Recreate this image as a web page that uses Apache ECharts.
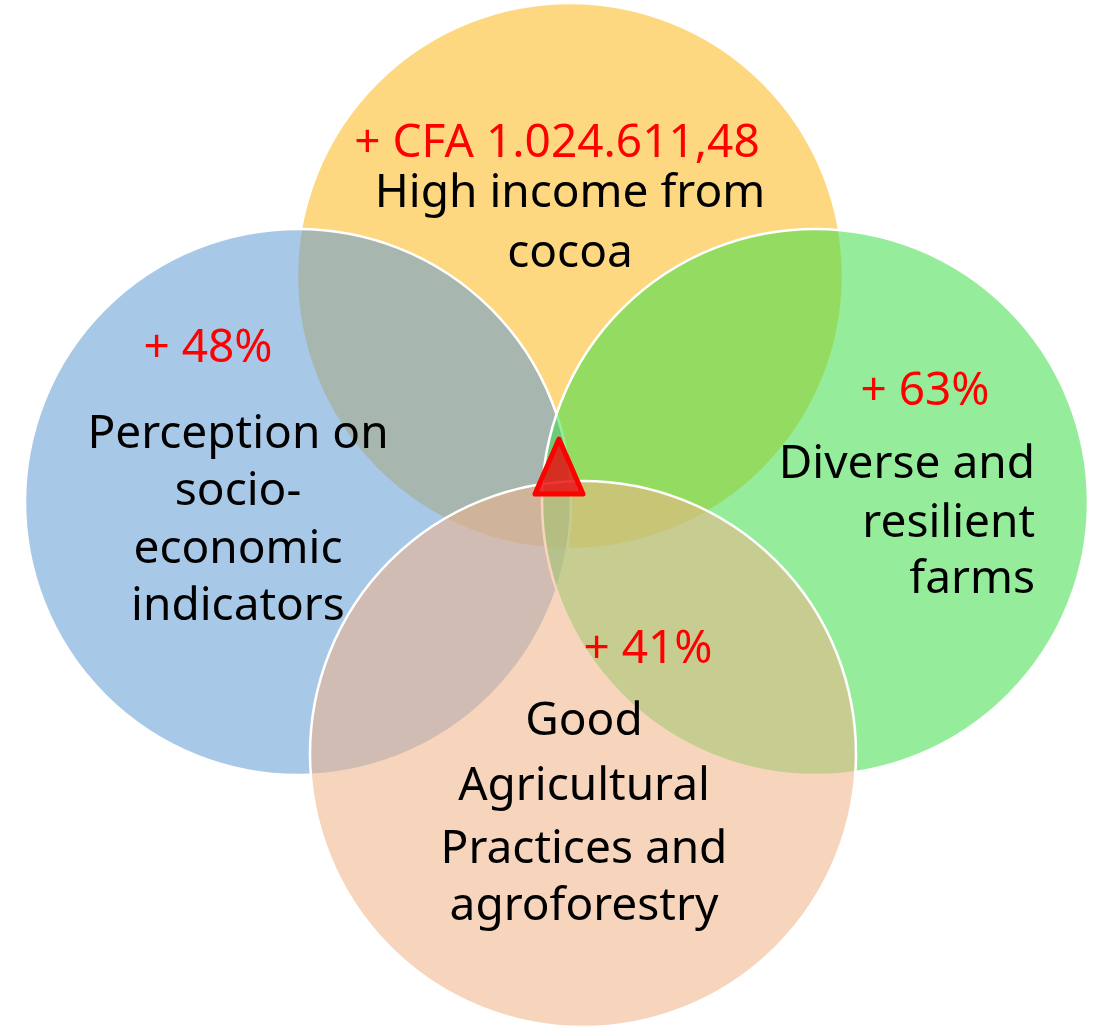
<!DOCTYPE html>
<html><head><meta charset="utf-8">
<script src="https://cdn.jsdelivr.net/npm/echarts@6/dist/echarts.min.js"></script>
<style>html,body{margin:0;padding:0;background:#fff}#c{width:1096px;height:1026px}</style>
</head><body><div id="c"></div>
<script>
// ---- data ----
const setNames = ['High income from cocoa', 'Perception on socio-economic indicators', 'Diverse and resilient farms', 'Good Agricultural Practices and agroforestry'];
const setLines = [['High income from', 'cocoa'], ['Perception on', 'socio-', 'economic', 'indicators'], ['Diverse and', 'resilient', 'farms'], ['Good', 'Agricultural', 'Practices and', 'agroforestry']];
const setGains = ['+ CFA 1.024.611,48', '+ 48%', '+ 63%', '+ 41%'];
const circleX = [570, 298, 815, 583];
const circleY = [276, 502, 502, 754];
const circleR = [273, 273, 273, 273];
const markerPoint = [559, 468];

// ---- layout / style ----
const fills = ['rgba(251,184,24,0.55)', 'rgba(97,155,213,0.55)', 'rgba(62,222,75,0.55)', 'rgba(240,179,135,0.55)'];
const FONT = '"Noto Sans", "Open Sans", sans-serif';
const gainPos = [[557, 144], [208, 349], [925, 392], [648, 650]];
const blockLayout = [
  {x: 570, align: 'center', ys: [194, 254]},
  {x: 238, align: 'center', ys: [435, 492, 550, 607]},
  {x: 1035, align: 'right', ys: [465, 524, 580]},
  {x: 584, align: 'center', ys: [722, 787, 850, 907]}
];

const circleData = circleX.map((x, i) => ({name: setNames[i], value: [x, circleY[i], circleR[i]]}));

const chart = echarts.init(document.getElementById('c'), null, {renderer: 'canvas'});
chart.setOption({
  animation: false,
  grid: {left: 0, right: 0, top: 0, bottom: 0},
  xAxis: {type: 'value', min: 0, max: 1096, show: false},
  yAxis: {type: 'value', min: 0, max: 1026, inverse: true, show: false},
  series: [
    {
      type: 'custom', name: 'sets', z: 1, clip: false,
      data: circleData,
      renderItem: function (params, api) {
        const c = api.coord([api.value(0), api.value(1)]);
        const r = api.size([api.value(2), 0])[0];
        return {type: 'circle', shape: {cx: c[0], cy: c[1], r: r},
          style: {fill: fills[params.dataIndex], stroke: '#ffffff', lineWidth: 2.5}};
      }
    },
    {
      type: 'custom', name: 'labels', z: 2, clip: false,
      data: setNames.map((n, i) => ({name: n, value: [i]})),
      renderItem: function (params, api) {
        const i = params.dataIndex;
        const children = [];
        const g = api.coord(gainPos[i]);
        children.push({type: 'text', x: g[0], y: g[1], style: {text: setGains[i], fill: '#ff0000', font: '46px ' + FONT, align: 'center', verticalAlign: 'middle'}});
        const b = blockLayout[i];
        setLines[i].forEach((t, k) => {
          const p = api.coord([b.x, b.ys[k]]);
          children.push({type: 'text', x: p[0], y: p[1], style: {text: t, fill: '#000000', font: '46px ' + FONT, align: b.align, verticalAlign: 'middle'}});
        });
        return {type: 'group', children: children};
      }
    },
    {
      type: 'custom', name: 'marker', z: 3, clip: false,
      data: [markerPoint],
      renderItem: function (params, api) {
        const c = api.coord([api.value(0), api.value(1)]);
        const s = api.size([24, 29]);
        return {type: 'polygon', shape: {points: [[c[0], c[1] - s[1]], [c[0] - s[0], c[1] + s[1] * 0.9], [c[0] + s[0], c[1] + s[1] * 0.9]]},
          style: {fill: 'rgba(232,20,20,0.85)', stroke: '#ff0000', lineWidth: 5, lineJoin: 'round'}};
      }
    }
  ]
});
</script>
</body></html>
